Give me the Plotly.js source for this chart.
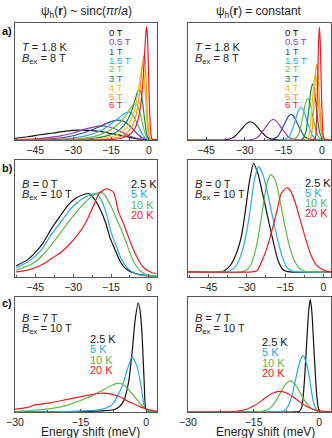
<!DOCTYPE html>
<html>
<head>
<meta charset="utf-8">
<script src="https://cdn.plot.ly/plotly-3.0.1.min.js"></script>
<style>
  html, body { margin: 0; padding: 0; background: #fff; }
  #chart { width: 332px; height: 438px; }
</style>
</head>
<body>
<div id="chart"></div>
<script>
// ---- data (y = fraction of panel height) ----
const fieldLabels = ["0 T", "0.5 T", "1 T", "1.5 T", "2 T", "3 T", "4 T", "5 T", "6 T"];
const fieldColors = ["#111111", "#8e44ad", "#34469c", "#29abe2", "#6cbf45", "#13874b", "#f5be16", "#f7941d", "#ed1c24"];
const tempLabels = ["2.5 K", "5 K", "10 K", "20 K"];
const tempColors = ["#111111", "#29abe2", "#5cb84a", "#ed1c24"];

// a) sinc, field series
const sincFieldX = [
    [-53, -48, -43, -38, -33, -28.5, -24, -19, -14, -10, -6, -3, -1, 0.5, 3],
    [-53, -45, -40, -35, -30, -25, -21, -19, -16, -13, -10, -7, -4, -1.5, 0.5, 3],
    [-53, -45, -38, -32, -26, -21, -17, -14, -12, -10, -8, -6, -4, -2, 0, 3],
    [-53, -40, -32, -25, -20, -16, -13, -10, -8.2, -7, -5.5, -4, -2.5, -1, 1, 3],
    [-53, -35, -26, -20, -15, -11, -8.5, -7, -5.5, -4.5, -3.5, -2.5, -1.2, 0.5, 3],
    [-53, -30, -22, -16, -12, -9, -7, -5.5, -4.2, -3.3, -2.5, -1.6, -0.6, 1, 3],
    [-53, -25, -18, -13, -9, -6.5, -5, -3.8, -3, -2.5, -2, -1.4, -0.7, 0.3, 3],
    [-53, -20, -14, -10, -7, -5, -3.8, -2.9, -2.3, -1.9, -1.5, -1, -0.4, 0.5, 3],
    [-53, -16, -11, -8, -5.5, -4, -3, -2.2, -1.6, -1.2, -0.9, -0.6, -0.3, 0.1, 0.6, 1.2, 3]
];
const sincFieldY = [
    [0.015, 0.028, 0.045, 0.06, 0.076, 0.085, 0.082, 0.072, 0.052, 0.035, 0.015, 0.005, 0.001, 0, 0],
    [0.003, 0.01, 0.02, 0.035, 0.06, 0.095, 0.115, 0.12, 0.113, 0.09, 0.06, 0.03, 0.01, 0.002, 0, 0],
    [0, 0.004, 0.012, 0.028, 0.06, 0.1, 0.14, 0.163, 0.17, 0.16, 0.13, 0.085, 0.04, 0.01, 0.001, 0],
    [0, 0.003, 0.012, 0.035, 0.07, 0.12, 0.17, 0.22, 0.24, 0.23, 0.18, 0.11, 0.045, 0.01, 0, 0],
    [0, 0.003, 0.015, 0.04, 0.09, 0.16, 0.23, 0.28, 0.31, 0.29, 0.23, 0.14, 0.04, 0, 0],
    [0, 0.003, 0.015, 0.04, 0.08, 0.15, 0.24, 0.34, 0.43, 0.42, 0.32, 0.16, 0.03, 0, 0],
    [0, 0.003, 0.015, 0.04, 0.1, 0.2, 0.32, 0.48, 0.6, 0.65, 0.58, 0.38, 0.13, 0.01, 0],
    [0, 0.003, 0.015, 0.04, 0.1, 0.22, 0.38, 0.56, 0.68, 0.73, 0.68, 0.45, 0.15, 0.01, 0],
    [0, 0.003, 0.015, 0.04, 0.1, 0.2, 0.34, 0.55, 0.78, 0.92, 0.97, 0.9, 0.7, 0.38, 0.1, 0.01, 0]
];

// a) constant, field series
const constFieldX = [
    [-53, -37.7, -34.4, -31.1, -29.45, -27.8, -26.15, -24.5, -21.2, -17.9, 3.5],
    [-53, -27.9, -24.9, -21.9, -20.4, -18.9, -17.4, -15.9, -12.9, -9.9, 3.5],
    [-53, -19.8, -17.2, -14.6, -13.3, -12, -10.7, -9.4, -6.8, -4.2, 3.5],
    [-53, -14.7, -12.5, -10.3, -9.2, -8.1, -7, -5.9, -3.7, -1.5, 3.5],
    [-53, -10.9, -9.1, -7.3, -6.4, -5.5, -4.6, -3.7, -1.9, -0.1, 3.5],
    [-53, -7.65, -6.3, -4.95, -4.28, -3.6, -2.93, -2.25, -0.9, 0.45, 3.5],
    [-53, -5.9, -4.8, -3.7, -3.15, -2.6, -2.05, -1.5, -0.4, 0.7, 3.5],
    [-53, -4.7, -3.8, -2.9, -2.45, -2, -1.55, -1.1, -0.2, 0.7, 3.5],
    [-53, -2.8, -2.2, -1.6, -1.3, -1, -0.7, -0.4, 0.2, 0.8, 3.5]
];
const constFieldY = [
    [0, 0.002, 0.021, 0.095, 0.138, 0.156, 0.138, 0.095, 0.021, 0.002, 0],
    [0, 0.002, 0.024, 0.107, 0.155, 0.176, 0.155, 0.107, 0.024, 0.002, 0],
    [0, 0.002, 0.03, 0.134, 0.194, 0.22, 0.194, 0.134, 0.03, 0.002, 0],
    [0, 0.003, 0.038, 0.17, 0.247, 0.28, 0.247, 0.17, 0.038, 0.003, 0],
    [0, 0.004, 0.048, 0.215, 0.313, 0.355, 0.313, 0.215, 0.048, 0.004, 0],
    [0, 0.005, 0.065, 0.291, 0.423, 0.48, 0.423, 0.291, 0.065, 0.005, 0],
    [0, 0.006, 0.076, 0.34, 0.494, 0.56, 0.494, 0.34, 0.076, 0.006, 0],
    [0, 0.007, 0.088, 0.395, 0.573, 0.65, 0.573, 0.395, 0.088, 0.007, 0],
    [0, 0.011, 0.131, 0.586, 0.852, 0.966, 0.852, 0.586, 0.131, 0.011, 0]
];

// b) sinc, temperature series (B = 0 T)
const sincTempX = [
    [-52.5, -48, -45, -42, -38.5, -35, -32, -29, -26, -23.7, -21.5, -19.2, -17, -15.4, -13.5, -11.5, -10, -8, -6, -3, 0, 3],
    [-52.5, -48, -45, -42, -38.5, -35, -32, -29, -26, -23, -21, -19, -17, -15, -13, -11, -9, -7, -5, -2, 0, 3],
    [-52.5, -48, -45, -42, -38.5, -35, -32, -28, -24, -21, -19, -17.5, -15, -13, -11, -9, -7, -5, -3, -1, 1, 3],
    [-52.5, -48, -45, -42, -38.5, -35, -32, -28, -25, -22, -20, -18, -16.5, -14, -12, -10, -8, -6, -4, -2, 0, 1.5, 3]
];
const sincTempY = [
    [0.086, 0.14, 0.2, 0.28, 0.41, 0.52, 0.61, 0.67, 0.7, 0.71, 0.66, 0.57, 0.45, 0.33, 0.23, 0.13, 0.08, 0.045, 0.025, 0.008, 0, 0],
    [0.07, 0.12, 0.17, 0.24, 0.36, 0.46, 0.55, 0.62, 0.67, 0.7, 0.71, 0.66, 0.55, 0.38, 0.26, 0.15, 0.08, 0.04, 0.015, 0.004, 0.001, 0],
    [0.05, 0.085, 0.12, 0.18, 0.27, 0.37, 0.46, 0.57, 0.66, 0.71, 0.72, 0.7, 0.6, 0.5, 0.4, 0.29, 0.17, 0.085, 0.035, 0.01, 0.002, 0],
    [0.035, 0.05, 0.07, 0.1, 0.15, 0.2, 0.26, 0.36, 0.46, 0.6, 0.7, 0.74, 0.75, 0.72, 0.55, 0.45, 0.33, 0.22, 0.13, 0.07, 0.04, 0.025, 0.02]
];

// b) constant, temperature series (B = 0 T)
const constTempX = [
    [-53, -40, -38.8, -36.4, -34, -32, -30.5, -29, -27.3, -25.4, -24, -22.8, -21.5, -20.3, -19, -17.7, -15.8, -13, 3],
    [-53, -38, -36.5, -34, -32, -30, -28.5, -27, -25.4, -23.5, -22, -20.5, -19, -17.5, -16, -14.5, -12.5, -10, 3],
    [-53, -32, -30.5, -28.5, -26.5, -25, -23.5, -22, -20.5, -19, -17.5, -16, -14.5, -13, -11.5, -10, -8.5, -7, -4, 3],
    [-53, -28, -26, -24, -22, -20, -18, -16.5, -14.5, -13, -11, -9, -7, -5, -3, -1, 1, 3]
];
const constTempY = [
    [0, 0, 0.01, 0.06, 0.17, 0.33, 0.55, 0.8, 0.97, 0.86, 0.72, 0.6, 0.46, 0.34, 0.21, 0.1, 0.02, 0, 0],
    [0, 0, 0.01, 0.06, 0.17, 0.36, 0.58, 0.82, 0.94, 0.86, 0.72, 0.56, 0.4, 0.25, 0.13, 0.05, 0.01, 0, 0],
    [0, 0, 0.01, 0.06, 0.2, 0.38, 0.6, 0.8, 0.87, 0.83, 0.7, 0.52, 0.35, 0.21, 0.11, 0.05, 0.02, 0.005, 0, 0],
    [0, 0, 0.01, 0.1, 0.22, 0.38, 0.56, 0.7, 0.75, 0.73, 0.62, 0.46, 0.3, 0.16, 0.07, 0.03, 0.008, 0]
];

// c) sinc, temperature series (B = 7 T)
const sincHighX = [
    [-30, -20, -15, -10, -7.4, -6, -5.1, -4, -3.2, -2.5, -1.8, -1.3, -0.9, -0.4, 0, 1, 2.5],
    [-30, -22, -15, -10.4, -8.5, -7.4, -6.4, -5.4, -4.3, -3.2, -2.2, -1.3, -0.4, 0.2, 1, 2.5],
    [-30, -26, -21.8, -18, -15, -12.5, -10.4, -8, -5.9, -4.3, -2.8, -1.5, -0.5, 0.6, 1.5, 2.5],
    [-30, -27, -25.6, -22, -18, -14, -10.4, -8, -5.9, -4, -2.8, -1, 0.2, 1.5, 2.5]
];
const sincHighY = [
    [0, 0.002, 0.005, 0.01, 0.02, 0.05, 0.1, 0.26, 0.52, 0.8, 0.95, 0.86, 0.66, 0.23, 0.02, 0, 0],
    [0, 0.002, 0.008, 0.02, 0.045, 0.08, 0.15, 0.23, 0.37, 0.475, 0.41, 0.26, 0.05, 0.01, 0.002, 0],
    [0.006, 0.015, 0.03, 0.06, 0.1, 0.14, 0.18, 0.23, 0.25, 0.21, 0.14, 0.08, 0.04, 0.01, 0.004, 0],
    [0.025, 0.04, 0.06, 0.08, 0.11, 0.14, 0.163, 0.155, 0.13, 0.09, 0.07, 0.04, 0.025, 0.012, 0.008]
];

// c) constant, temperature series (B = 7 T)
const constHighX = [
    [-30, -6, -4.6, -4, -3.6, -3.2, -2.8, -2.4, -2.05, -1.7, -1.3, -0.9, -0.5, -0.1, 0.5, 2.7],
    [-30, -8.5, -7.7, -6.9, -6.1, -5.3, -4.5, -3.7, -2.9, -2.1, -1.4, -0.8, -0.3, 2.7],
    [-30, -13.5, -12.35, -11.2, -10.05, -8.9, -7.75, -6.6, -5.45, -4.3, -3.15, -2, -0.85, 0.3, 2.7],
    [-30, -20.4, -18.5, -16.6, -14.7, -12.8, -10.9, -9, -7.1, -5.2, -3.3, -1.4, 0.5, 2.7]
];
const constHighY = [
    [0, 0, 0.005, 0.04, 0.16, 0.38, 0.64, 0.88, 0.98, 0.88, 0.62, 0.34, 0.12, 0.02, 0, 0],
    [0, 0.005, 0.021, 0.066, 0.16, 0.3, 0.43, 0.49, 0.42, 0.27, 0.1, 0.03, 0.005, 0],
    [0, 0.003, 0.012, 0.036, 0.088, 0.164, 0.238, 0.27, 0.238, 0.164, 0.088, 0.036, 0.012, 0.003, 0],
    [0, 0.002, 0.008, 0.024, 0.058, 0.109, 0.159, 0.18, 0.159, 0.109, 0.058, 0.024, 0.008, 0.002]
];

// ---- layout helpers (pixel -> paper) ----
const W = 332, H = 438;
const px = (x) => x / W;
const py = (y) => 1 - y / H;
const cols = [[15, 157], [188, 331]];
const rows = [[23, 140], [160, 277], [297, 412]];
const FONT = "Liberation Sans, Arial, sans-serif";
const FRAME = "#555555";

const traces = [];
function addSeries(xs, ys, colors, n) {
    xs.forEach((x, i) => {
        traces.push({
            type: "scatter", mode: "lines", x: x, y: ys[i],
            xaxis: "x" + (n === 1 ? "" : n), yaxis: "y" + (n === 1 ? "" : n),
            line: { color: colors[i], width: 1.2, shape: "spline", smoothing: 0.6 },
            hoverinfo: "skip", showlegend: false
        });
    });
}
addSeries(sincFieldX, sincFieldY, fieldColors, 1);
addSeries(constFieldX, constFieldY, fieldColors, 2);
addSeries(sincTempX, sincTempY, tempColors, 3);
addSeries(constTempX, constTempY, tempColors, 4);
addSeries(sincHighX, sincHighY, tempColors, 5);
addSeries(constHighX, constHighY, tempColors, 6);

const layout = {
    width: W, height: H,
    margin: { l: 0, r: 0, t: 0, b: 0 },
    paper_bgcolor: "#fff", plot_bgcolor: "#fff",
    font: { family: FONT, size: 11, color: "#222" },
    showlegend: false,
    annotations: []
};

const xRanges = [[-53, 3.2], [-52, 3.5], [-53, 3.2], [-53, 3], [-30, 2.5], [-30, 2.7]];
const yRanges = [[0, 1], [0, 1], [-0.01, 1], [-0.045, 1], [0, 1], [0, 1]];
for (let n = 1; n <= 6; n++) {
    const col = cols[(n - 1) % 2];
    const row = rows[Math.floor((n - 1) / 2)];
    const s = n === 1 ? "" : n;
    const wide = n <= 4;
    layout["xaxis" + s] = {
        domain: [px(col[0]), px(col[1])],
        anchor: "y" + s,
        range: xRanges[n - 1],
        tickvals: wide ? [-45, -30, -15, 0] : [-30, -15, 0],
        ticks: "inside", ticklen: 3, tickcolor: FRAME,
        minor: { dtick: 7.5, tick0: 0, ticks: "inside", ticklen: 2, tickcolor: FRAME },
        showline: true, mirror: true, linecolor: FRAME, linewidth: 1,
        showgrid: false, zeroline: false,
        tickfont: { size: 10.5, color: "#222" }
    };
    layout["yaxis" + s] = {
        domain: [py(row[1]), py(row[0])],
        anchor: "x" + s,
        range: yRanges[n - 1],
        showticklabels: false, ticks: "",
        showline: true, mirror: true, linecolor: FRAME, linewidth: 1,
        showgrid: false, zeroline: false
    };
}

function note(x, y, text, opts = {}) {
    layout.annotations.push(Object.assign({
        xref: "paper", yref: "paper", x: px(x), y: py(y), text: text,
        showarrow: false, xanchor: "left", yanchor: "middle",
        font: { family: FONT, size: 11, color: "#222" }
    }, opts));
}

// column titles
note(86, 12, "ψ<sub>h</sub>(<b>r</b>) ~ sinc(<i>π</i><i>r</i>/<i>a</i>)", { xanchor: "center", font: { family: FONT, size: 12, color: "#222" } });
note(259, 12, "ψ<sub>h</sub>(<b>r</b>) = constant", { xanchor: "center", font: { family: FONT, size: 12, color: "#222" } });

// x axis titles for the bottom row
note(90, 432, "Energy shift (meV)", { xanchor: "center", font: { family: FONT, size: 12, color: "#222" } });
note(265, 432, "Energy shift (meV)", { xanchor: "center", font: { family: FONT, size: 12, color: "#222" } });

// panel letters
note(0, 31, "<b>a)</b>", { font: { family: FONT, size: 11, color: "#111" } });
note(0, 168, "<b>b)</b>", { font: { family: FONT, size: 11, color: "#111" } });
note(0, 303, "<b>c)</b>", { font: { family: FONT, size: 11, color: "#111" } });

// conditions
[20, 193].forEach((x) => {
    note(x, 47, "<i>T</i> = 1.8 K");
    note(x, 59, "<i>B</i><sub>ex</sub> = 8 T");
    note(x, 184, "<i>B</i> = 0 T");
    note(x, 195, "<i>B</i><sub>ex</sub> = 10 T");
    note(x, 318, "<i>B</i> = 7 T");
    note(x, 329, "<i>B</i><sub>ex</sub> = 10 T");
});

// field legends
fieldLabels.forEach((label, i) => {
    note(107, 33 + i * 9, label, { font: { family: FONT, size: 9.5, color: fieldColors[i] } });
    note(283, 33 + i * 9, label, { font: { family: FONT, size: 9.5, color: fieldColors[i] } });
});

// temperature legends
tempLabels.forEach((label, i) => {
    note(129, 184 + i * 10.3, label, { font: { family: FONT, size: 11, color: tempColors[i] } });
    note(303, 183 + i * 10, label, { font: { family: FONT, size: 11, color: tempColors[i] } });
    note(88, 339 + i * 10.3, label, { font: { family: FONT, size: 11, color: tempColors[i] } });
    note(260, 342 + i * 10.3, label, { font: { family: FONT, size: 11, color: tempColors[i] } });
});

Plotly.newPlot("chart", traces, layout, { displayModeBar: false, staticPlot: true });
</script>
</body>
</html>
